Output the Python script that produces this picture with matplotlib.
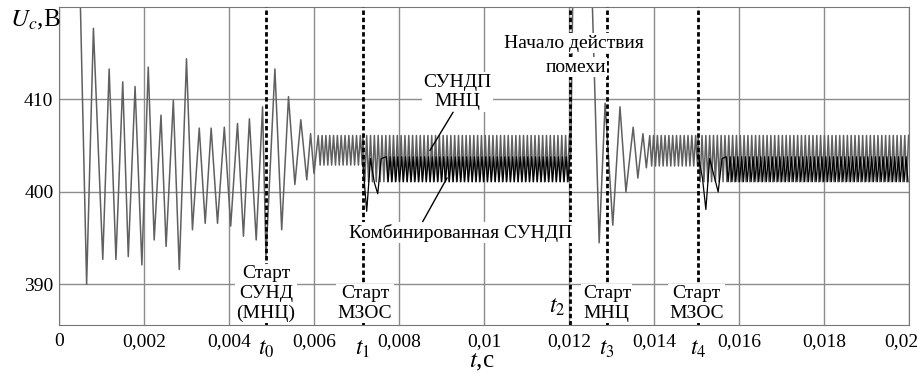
import numpy as np
import matplotlib
matplotlib.use('Agg')
import matplotlib.pyplot as plt
import matplotlib.transforms as mtransforms

plt.rcParams['font.family'] = ['Liberation Serif', 'DejaVu Serif']
plt.rcParams['mathtext.fontset'] = 'stix'

# start-up transient, peaks and troughs (t in s, U in V)
start_t = [0.00048, 0.00065, 0.00081, 0.00103, 0.00118, 0.00134, 0.00150, 0.00163,
           0.00179, 0.00195, 0.00210, 0.00224, 0.00240, 0.00252, 0.00269, 0.00283,
           0.00300, 0.00314, 0.00330, 0.00344, 0.00358, 0.00373, 0.00389, 0.00404,
           0.00420, 0.00434, 0.00448, 0.00464, 0.00479, 0.00487, 0.00508, 0.00524,
           0.00540, 0.00555, 0.00569, 0.00583, 0.00592, 0.00600]
start_u = [425.0, 390.0, 417.7, 392.7, 413.3, 392.7, 411.9, 393.0,
           411.4, 392.1, 413.5, 394.8, 408.3, 394.1, 409.9, 391.6,
           414.4, 395.9, 406.9, 396.6, 406.9, 396.6, 407.0, 396.3,
           407.4, 395.2, 407.9, 394.8, 409.2, 393.0, 413.3, 395.9,
           410.3, 400.8, 407.8, 401.3, 406.3, 402.0]

# disturbance after t2
dist_t = [0.01204, 0.01210, 0.01252, 0.01271, 0.01285, 0.01303, 0.01320, 0.01334,
          0.01351, 0.01362, 0.01374, 0.01382]
dist_u = [404.0, 425.0, 425.0, 394.5, 409.6, 396.4, 409.2, 400.0,
          407.0, 401.5, 406.3, 402.6]

# combined system: dips after switching on the MZOS (t1, t4)
comb1_t = [0.00715, 0.00724, 0.00733, 0.00742, 0.00750, 0.00758]
comb1_u = [403.0, 397.9, 403.6, 401.0, 399.8, 403.6]
comb2_t = [0.01504, 0.01514, 0.01522, 0.01531, 0.01542, 0.01551, 0.01560]
comb2_u = [404.0, 401.5, 398.1, 403.6, 401.6, 400.0, 403.6]

# steady-state ripple: (from, to, upper, lower)
mnc_ripple = [(0.0061, 0.00715, 406.1, 402.9),
              (0.00715, 0.01204, 406.1, 401.1),
              (0.0139, 0.01504, 406.1, 402.8),
              (0.01504, 0.0200, 406.1, 401.1)]
comb_ripple = [(0.0077, 0.01204, 403.8, 401.1),
               (0.0157, 0.0200, 403.8, 401.1)]
ripple_period = 0.00009

events = [0.00487, 0.00715, 0.01202, 0.01289, 0.01504]
xticks = [0, 0.002, 0.004, 0.006, 0.008, 0.01, 0.012, 0.014, 0.016, 0.018, 0.02]
xtick_labels = ['0', '0,002', '0,004', '0,006', '0,008', '0,01', '0,012',
                '0,014', '0,016', '0,018', '0,02']
yticks = [390, 400, 410]


def ripple(seg):
    t = np.arange(seg[0], seg[1], ripple_period / 2)
    u = np.where(np.arange(len(t)) % 2 == 0, seg[2], seg[3])
    return list(t), list(u)


# assemble the MNC curve
mnc_t, mnc_u = list(start_t), list(start_u)
for seg in mnc_ripple[:2]:
    t, u = ripple(seg)
    mnc_t += t
    mnc_u += u
mnc_t += dist_t
mnc_u += dist_u
for seg in mnc_ripple[2:]:
    t, u = ripple(seg)
    mnc_t += t
    mnc_u += u

# combined curve, only where it differs from the MNC one
comb_parts = []
for (pt, pu), seg in zip([(comb1_t, comb1_u), (comb2_t, comb2_u)], comb_ripple):
    t, u = ripple(seg)
    comb_parts.append((list(pt) + t, list(pu) + u))

fig = plt.figure(figsize=(9.22, 3.77), dpi=100)
ax = fig.add_axes([59 / 922, 1 - 325 / 377, 850 / 922, 318 / 377])

ax.plot(mnc_t, mnc_u, color='#606060', lw=1.1, zorder=2)
for t, u in comb_parts:
    ax.plot(t, u, color='black', lw=0.9, zorder=3)

for te in events:
    ax.axvline(te, color='black', lw=2.0, ls=(0, (1.6, 1.0)), zorder=4)

ax.set_xlim(0, 0.02)
ax.set_ylim(385.6, 420)
ax.set_xticks(xticks)
ax.set_xticklabels(xtick_labels)
ax.set_yticks(yticks)
ax.grid(True, color='#8c8c8c', lw=1.0)
ax.set_axisbelow(True)
ax.tick_params(length=0, labelsize=14, pad=6)
ax.tick_params(axis='y', pad=4)
for s in ax.spines.values():
    s.set_color('#777777')
# last label sits a bit left, as in the original
last = ax.get_xticklabels()[-1]
last.set_transform(last.get_transform() +
                   mtransforms.ScaledTranslation(-8 / 100, 0, fig.dpi_scale_trans))

box = dict(facecolor='white', edgecolor='none', pad=1)
lab = dict(ha='center', va='center', fontsize=14, linespacing=1.2, zorder=5, bbox=box)
ax.text(0.00487, 389.0, 'Старт\nСУНД\n(МНЦ)', **lab)
ax.text(0.00720, 387.9, 'Старт\nМЗОС', **lab)
ax.text(0.01289, 387.9, 'Старт\nМНЦ', **lab)
ax.text(0.01500, 387.9, 'Старт\nМЗОС', **lab)
ax.text(0.01212, 416.1, 'Начало действия', **lab)
ax.text(0.01216, 413.5, 'помехи', **lab)
ax.text(0.00937, 410.8, 'СУНДП\nМНЦ', **lab)
ax.text(0.00944, 395.6, 'Комбинированная СУНДП', **lab)
ax.plot([0.00927, 0.00873], [408.6, 404.5], color='black', lw=1.0, zorder=5)
ax.plot([0.00856, 0.00913], [396.8, 401.5], color='black', lw=1.0, zorder=5)
ax.text(0.01172, 387.5, r'$t_2$', ha='center', va='center', fontsize=17, zorder=5)

trans = mtransforms.blended_transform_factory(ax.transData, ax.transAxes)
for i, te in enumerate(events):
    if i == 2:
        continue
    ax.text(te, -0.075, r'$t_%d$' % i, transform=trans, ha='center', va='center',
            fontsize=17)

fig.text(10 / 922, 1 - 20 / 377, r'$U_c$,В', ha='left', va='center', fontsize=18)
fig.text(482 / 922, 1 - 362 / 377, r'$t$,с', ha='center', va='center', fontsize=18)

fig.savefig('out.png', dpi=100)
